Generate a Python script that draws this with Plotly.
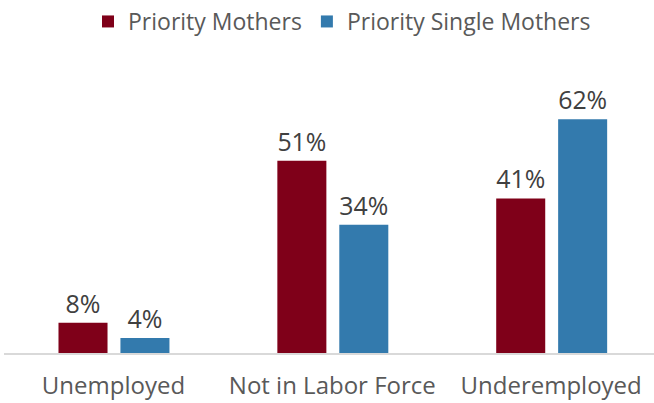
import plotly.graph_objects as go

categories = ["Unemployed", "Not in Labor Force", "Underemployed"]
priority_mothers = [8, 51, 41]
priority_single_mothers = [4, 34, 62]
series_names = ["Priority Mothers", "Priority Single Mothers"]

RED = "#7F0019"
BLUE = "#337AAD"
TXT = "#595959"
FONT = "Open Sans"

fig = go.Figure()
fig.add_trace(go.Bar(
    x=categories, y=priority_mothers, name=series_names[0],
    marker=dict(color=RED, line=dict(width=0)),
    width=0.224, offset=-0.251,
    text=[f"{v}%" for v in priority_mothers], textposition="outside",
    textfont=dict(size=25, color="#404040", family=FONT), cliponaxis=False,
))
fig.add_trace(go.Bar(
    x=categories, y=priority_single_mothers, name=series_names[1],
    marker=dict(color=BLUE, line=dict(width=0)),
    width=0.224, offset=0.032,
    text=[f"{v}%" for v in priority_single_mothers], textposition="outside",
    textfont=dict(size=25, color="#404040", family=FONT), cliponaxis=False,
))

fig.update_layout(
    width=654, height=403,
    margin=dict(l=4, r=0, t=40, b=50, autoexpand=False),
    paper_bgcolor="white", plot_bgcolor="white",
    font=dict(family=FONT, color=TXT, size=23),
    showlegend=True,
    legend=dict(orientation="h", x=0.52, xanchor="center", y=1.0, yanchor="top",
                yref="container", font=dict(size=23, color=TXT, family=FONT),
                itemwidth=30, traceorder="normal"),
    xaxis=dict(range=[-0.5, 2.47], showgrid=False, showline=True, linecolor="#D9D9D9",
               linewidth=2, ticks="outside", ticklen=10, tickcolor="rgba(0,0,0,0)",
               tickfont=dict(size=24, color=TXT, family=FONT)),
    yaxis=dict(range=[0, 83], visible=False, showgrid=False),
)

fig.write_html("out.html", config={"displayModeBar": False},
               post_script="document.body.style.margin='0';document.body.style.overflow='hidden';")
